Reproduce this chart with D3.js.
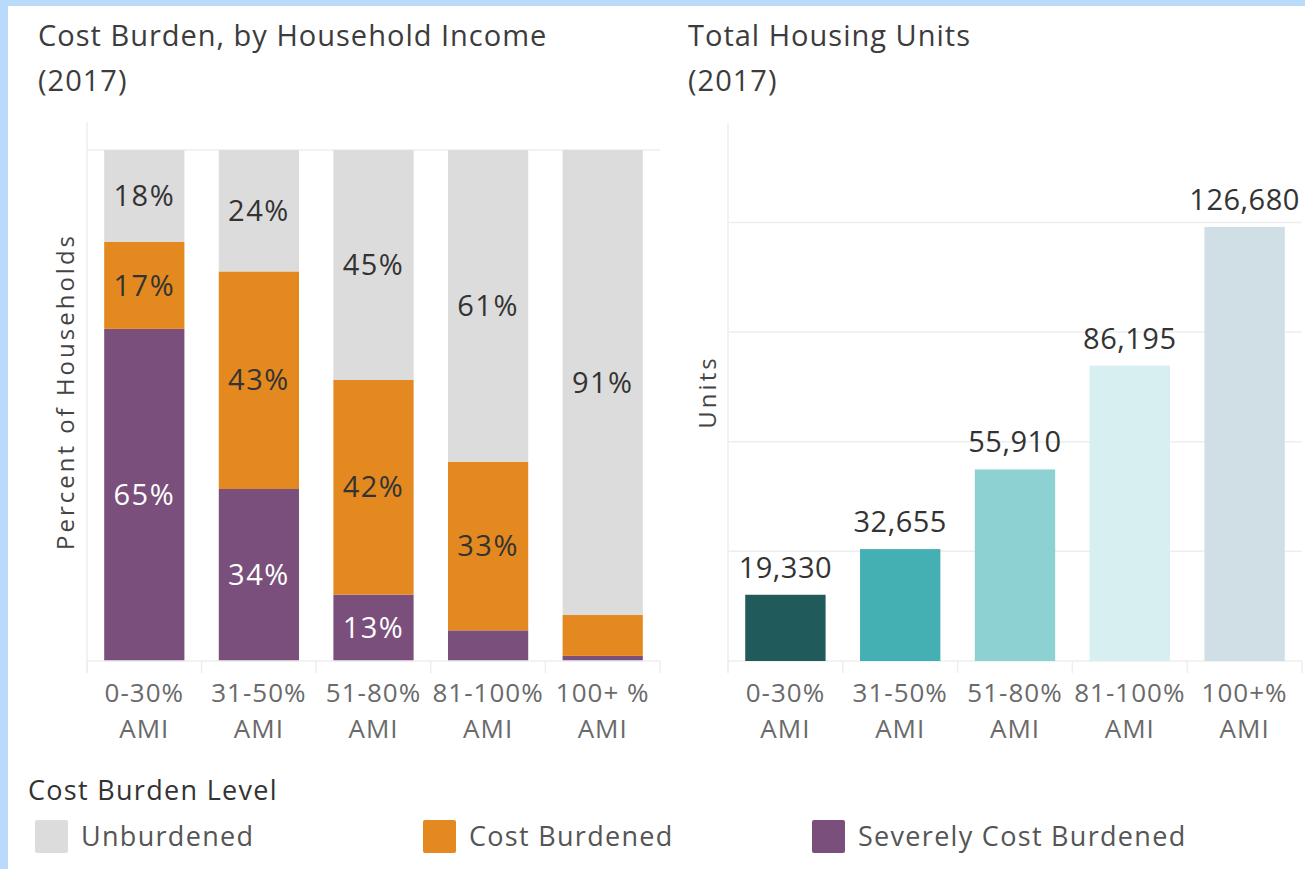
<!DOCTYPE html>
<html>
<head>
<meta charset="utf-8">
<script src="https://cdn.jsdelivr.net/npm/d3@7"></script>
<style>
  html, body { margin: 0; padding: 0; background: #b9dafb; }
  svg { display: block; font-family: "Open Sans", "Noto Sans", sans-serif; }
</style>
</head>
<body>
<svg id="chart" width="1305" height="869"></svg>
<script>
// categories
const burdenCats = ["0-30% AMI", "31-50% AMI", "51-80% AMI", "81-100% AMI", "100+ % AMI"];
const unitCats = ["0-30% AMI", "31-50% AMI", "51-80% AMI", "81-100% AMI", "100+% AMI"];

// cost burden shares (percent of households, rounded as labelled)
const severelyBurdened = [65, 34, 13, 6, 1];
const costBurdened = [17, 43, 42, 33, 8];
const unburdened = [18, 24, 45, 61, 91];

// total housing units
const housingUnits = [19330, 32655, 55910, 86195, 126680];
const unitGridTicks = [0, 32000, 64000, 96000, 128000];

const levels = ["Unburdened", "Cost Burdened", "Severely Cost Burdened"];
const levelColors = { "Unburdened": "#dcdcdc", "Cost Burdened": "#e3891f", "Severely Cost Burdened": "#7b4f7c" };
const unitColors = ["#215a5a", "#45b0b4", "#8ed1d2", "#d8eff1", "#d0dee6"];

const svg = d3.select("#chart");

// white card on light blue frame
svg.append("rect")
  .attr("x", 8).attr("y", 6)
  .attr("width", 1305 - 8).attr("height", 869 - 6)
  .attr("fill", "#ffffff");

const baseY = 661;
const gridCol = "#eeeeee";

function twoLine(sel, label) {
  const i = label.lastIndexOf(" ");
  sel.append("tspan").attr("x", 0).attr("dy", 0).text(label.slice(0, i));
  sel.append("tspan").attr("x", 0).attr("dy", 36).text(label.slice(i + 1));
}

function title(x, lines) {
  const t = svg.append("text")
    .attr("x", x).attr("y", 46)
    .attr("font-size", 29).attr("letter-spacing", 1).attr("fill", "#3c3c3c");
  lines.forEach((l, i) => t.append("tspan").attr("x", x).attr("dy", i ? 45 : 0).text(l));
}

function axisLabels(g, x, cats) {
  g.selectAll(".xlab").data(cats).join("text")
    .attr("class", "xlab")
    .attr("transform", d => `translate(${x(d) + x.bandwidth() / 2},${baseY + 41})`)
    .attr("text-anchor", "middle")
    .attr("font-size", 26).attr("letter-spacing", 1).attr("fill", "#6a6a6a")
    .each(function(d) { twoLine(d3.select(this), d); });
}

function dividers(g, x, n) {
  d3.range(n + 1).forEach(i => {
    const xx = x.range()[0] + i * x.step();
    g.append("line").attr("x1", xx).attr("x2", xx).attr("y1", baseY).attr("y2", baseY + 12)
      .attr("stroke", gridCol).attr("stroke-width", 1.5);
  });
}

// ---------- left: cost burden stacked bars ----------
title(38, ["Cost Burden, by Household Income", "(2017)"]);

const x1 = d3.scaleBand().domain(burdenCats).range([87, 660]).paddingInner(0.3).paddingOuter(0.15);
const y1 = d3.scaleLinear().domain([0, 1]).range([baseY, 150]);

const left = svg.append("g");

left.append("line").attr("x1", 87).attr("x2", 87).attr("y1", 122).attr("y2", baseY + 12)
  .attr("stroke", gridCol).attr("stroke-width", 1.5);
left.append("line").attr("x1", 87).attr("x2", 660).attr("y1", y1(1)).attr("y2", y1(1))
  .attr("stroke", gridCol).attr("stroke-width", 1.5);

const rows = burdenCats.map((c, i) => ({
  cat: c,
  "Severely Cost Burdened": severelyBurdened[i],
  "Cost Burdened": costBurdened[i],
  "Unburdened": unburdened[i]
}));
const stacked = d3.stack()
  .keys(["Severely Cost Burdened", "Cost Burdened", "Unburdened"])
  .offset(d3.stackOffsetExpand)(rows);

stacked.forEach(layer => {
  const g = left.append("g");
  g.selectAll("rect").data(layer).join("rect")
    .attr("x", d => x1(d.data.cat))
    .attr("width", x1.bandwidth())
    .attr("y", d => y1(d[1]))
    .attr("height", d => y1(d[0]) - y1(d[1]))
    .attr("fill", levelColors[layer.key]);
  g.selectAll("text").data(layer.filter(d => d.data[layer.key] >= 10)).join("text")
    .attr("x", d => x1(d.data.cat) + x1.bandwidth() / 2)
    .attr("y", d => (y1(d[0]) + y1(d[1])) / 2)
    .attr("dy", "0.35em")
    .attr("text-anchor", "middle")
    .attr("font-size", 29).attr("letter-spacing", 1.5)
    .attr("fill", layer.key === "Severely Cost Burdened" ? "#ffffff" : "#333333")
    .text(d => d.data[layer.key] + "%");
});

left.append("line").attr("x1", 87).attr("x2", 660).attr("y1", baseY).attr("y2", baseY)
  .attr("stroke", gridCol).attr("stroke-width", 1.5);
dividers(left, x1, burdenCats.length);
axisLabels(left, x1, burdenCats);

left.append("text")
  .attr("transform", `translate(74,${(122 + baseY) / 2}) rotate(-90)`)
  .attr("text-anchor", "middle")
  .attr("font-size", 24).attr("letter-spacing", 3).attr("fill", "#444444")
  .text("Percent of Households");

// ---------- right: total housing units ----------
title(688, ["Total Housing Units", "(2017)"]);

const x2 = d3.scaleBand().domain(unitCats).range([728, 1302]).paddingInner(0.3).paddingOuter(0.15);
const y2 = d3.scaleLinear().domain([0, 157000]).range([baseY, 123]);

const right = svg.append("g");

right.append("line").attr("x1", 728).attr("x2", 728).attr("y1", 123).attr("y2", baseY + 12)
  .attr("stroke", gridCol).attr("stroke-width", 1.5);
right.selectAll(".grid").data(unitGridTicks).join("line")
  .attr("class", "grid")
  .attr("x1", 728).attr("x2", 1302)
  .attr("y1", d => y2(d)).attr("y2", d => y2(d))
  .attr("stroke", gridCol).attr("stroke-width", 1.5);
dividers(right, x2, unitCats.length);

right.selectAll(".bar").data(housingUnits).join("rect")
  .attr("class", "bar")
  .attr("x", (d, i) => x2(unitCats[i]))
  .attr("width", x2.bandwidth())
  .attr("y", d => y2(d))
  .attr("height", d => baseY - y2(d))
  .attr("fill", (d, i) => unitColors[i]);

right.selectAll(".val").data(housingUnits).join("text")
  .attr("class", "val")
  .attr("x", (d, i) => x2(unitCats[i]) + x2.bandwidth() / 2)
  .attr("y", d => y2(d) - 17)
  .attr("text-anchor", "middle")
  .attr("font-size", 29).attr("letter-spacing", 0.5).attr("fill", "#333333")
  .text(d => d3.format(",")(d));

axisLabels(right, x2, unitCats);

right.append("text")
  .attr("transform", `translate(716,${(123 + baseY) / 2}) rotate(-90)`)
  .attr("text-anchor", "middle")
  .attr("font-size", 24).attr("letter-spacing", 3).attr("fill", "#444444")
  .text("Units");

// ---------- legend ----------
const legend = svg.append("g");
legend.append("text")
  .attr("x", 28).attr("y", 800)
  .attr("font-size", 27).attr("letter-spacing", 1.3).attr("fill", "#333333")
  .text("Cost Burden Level");

const legendX = [35, 423, 812];
const item = legend.selectAll(".item").data(levels).join("g")
  .attr("class", "item")
  .attr("transform", (d, i) => `translate(${legendX[i]},820)`);
item.append("rect")
  .attr("width", 33).attr("height", 33).attr("rx", 2)
  .attr("fill", d => levelColors[d]);
item.append("text")
  .attr("x", 46).attr("y", 17).attr("dy", "0.35em")
  .attr("font-size", 27).attr("letter-spacing", 1.3).attr("fill", "#555555")
  .text(d => d);
</script>
</body>
</html>
